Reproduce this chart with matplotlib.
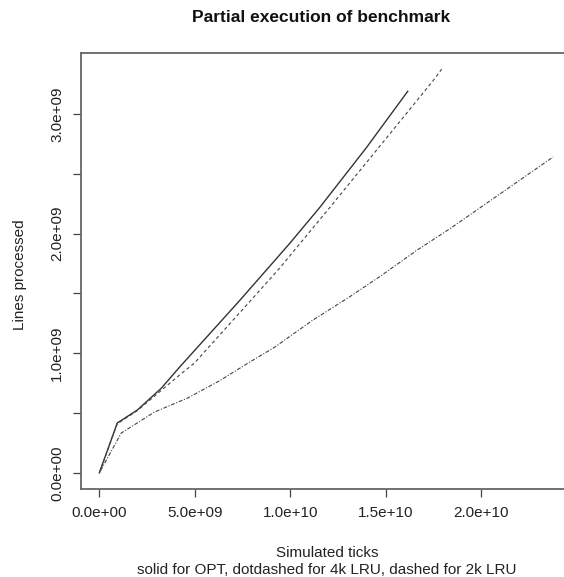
import matplotlib
matplotlib.use('Agg')
import matplotlib.pyplot as plt
import numpy as np

plt.rcParams['font.family'] = ['Liberation Sans', 'DejaVu Sans']

# simulated ticks (x) vs lines processed (y) for each policy
opt_ticks = [0, 0.94e9, 1.99e9, 3.25e9, 4.2e9, 7.35e9, 9.97e9, 11.54e9, 14.0e9, 16.16e9]
opt_lines = [0, 0.417e9, 0.525e9, 0.708e9, 0.883e9, 1.44e9, 1.917e9, 2.217e9, 2.72e9, 3.19e9]

lru2k_ticks = [0, 0.94e9, 1.99e9, 3.25e9, 4.2e9, 4.98e9, 7.87e9, 9.44e9, 12.07e9, 14.69e9, 17.47e9, 17.94e9]
lru2k_lines = [0, 0.41e9, 0.52e9, 0.69e9, 0.817e9, 0.917e9, 1.43e9, 1.71e9, 2.217e9, 2.73e9, 3.275e9, 3.375e9]

lru4k_ticks = [0, 1.15e9, 2.89e9, 4.62e9, 6.3e9, 7.87e9, 9.18e9, 11.17e9, 13.1e9, 14.69e9, 16.63e9, 18.36e9, 23.77e9]
lru4k_lines = [0, 0.333e9, 0.508e9, 0.625e9, 0.77e9, 0.925e9, 1.05e9, 1.275e9, 1.47e9, 1.64e9, 1.86e9, 2.04e9, 2.64e9]

xticks = [0, 5e9, 1e10, 1.5e10, 2e10]
xlabels = ['0.0e+00', '5.0e+09', '1.0e+10', '1.5e+10', '2.0e+10']
yticks = [0, 0.5e9, 1e9, 1.5e9, 2e9, 2.5e9, 3e9]
ylabels = ['0.0e+00', '', '1.0e+09', '', '2.0e+09', '', '3.0e+09']

W, H = 564, 577
fig = plt.figure(figsize=(W / 100, H / 100), dpi=100)
# plot box runs past the right edge of the figure
ax = fig.add_axes([81 / W, 1 - 489 / H, (575.7 - 81) / W, (489 - 53) / H])

ax.plot(opt_ticks, opt_lines, color='#333333', lw=1.0, ls='-')
ax.plot(lru4k_ticks, lru4k_lines, color='#444444', lw=0.8, ls=(0, (1, 1.5, 3.5, 1.5)))
ax.plot(lru2k_ticks, lru2k_lines, color='#444444', lw=0.8, ls=(0, (3, 2.5)))

ax.set_xlim(-0.96e9, 24.96e9)
ax.set_ylim(-0.135e9, 3.51e9)
ax.set_xticks(xticks)
ax.set_xticklabels(xlabels)
ax.set_yticks(yticks)
ax.set_yticklabels(ylabels, rotation=90, va='center')

for s in ax.spines.values():
    s.set_color('#666666')
    s.set_linewidth(1.3)
ax.tick_params(direction='out', length=6, width=0.9, color='#444444',
               labelsize=11, labelcolor='#222222', pad=6)

fig.text(321 / W, 1 - 18 / H, 'Partial execution of benchmark', ha='center', va='center',
         fontsize=12.5, fontweight='bold', color='#111111')
fig.text(327 / W, 1 - 553 / H, 'Simulated ticks', ha='center', va='center',
         fontsize=11, color='#222222')
fig.text(327 / W, 1 - 570 / H, 'solid for OPT, dotdashed for 4k LRU, dashed for 2k LRU',
         ha='center', va='center', fontsize=11, color='#222222')
fig.text(20 / W, 1 - 275 / H, 'Lines processed', ha='center', va='center', rotation=90,
         fontsize=11, color='#222222')

fig.savefig('out.png', dpi=100)
